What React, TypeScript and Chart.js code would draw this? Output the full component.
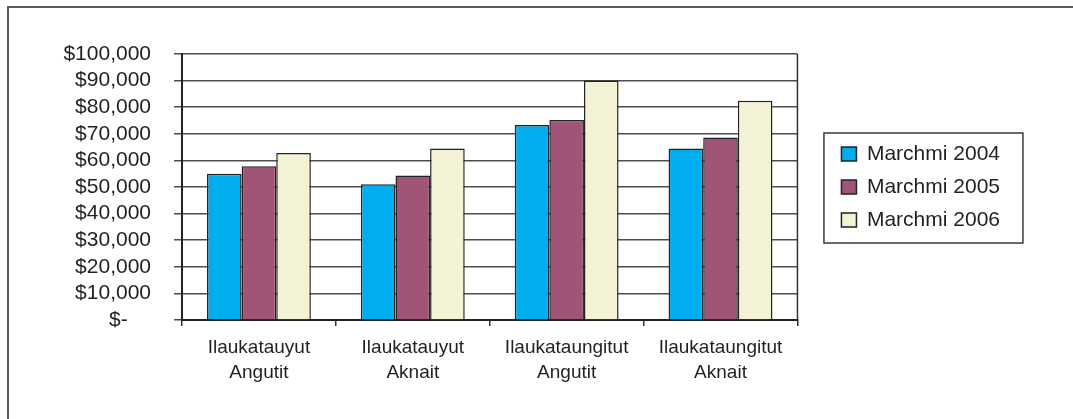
import React, { useEffect, useRef } from "react";
import { Chart, registerables } from "chart.js";

Chart.register(...registerables);

const categories: string[][] = [
  ["Ilaukatauyut", "Angutit"],
  ["Ilaukatauyut", "Aknait"],
  ["Ilaukataungitut", "Angutit"],
  ["Ilaukataungitut", "Aknait"],
];
const seriesNames = ["Marchmi 2004", "Marchmi 2005", "Marchmi 2006"];
const values2004 = [55000, 51000, 73300, 64500];
const values2005 = [57800, 54300, 75200, 68600];
const values2006 = [62800, 64500, 90000, 82400];
const seriesColors = ["#00ADEE", "#A05578", "#F3F2D4"];
const yTickLabels = [
  "$-    ",
  "$10,000",
  "$20,000",
  "$30,000",
  "$40,000",
  "$50,000",
  "$60,000",
  "$70,000",
  "$80,000",
  "$90,000",
  "$100,000",
];

const TEXT = "#231f20";
const FONT = '"Liberation Sans", Arial, Helvetica, sans-serif';

const frames = {
  id: "frames",
  afterDraw(chart: any) {
    const ctx = chart.ctx;
    const a = chart.chartArea;
    ctx.save();
    // right edge of the plot area
    ctx.strokeStyle = "#333333";
    ctx.lineWidth = 1.5;
    ctx.beginPath();
    ctx.moveTo(a.right, a.top);
    ctx.lineTo(a.right, a.bottom);
    ctx.stroke();
    // legend frame
    const lg = chart.legend;
    if (lg && lg.legendHitBoxes && lg.legendHitBoxes.length) {
      const hb = lg.legendHitBoxes;
      const x0 = lg.left - 6;
      const y0 = hb[0].top - 11;
      const y1 = hb[hb.length - 1].top + hb[hb.length - 1].height + 12;
      ctx.strokeStyle = "#3a3a3a";
      ctx.strokeRect(x0 + 0.5, y0 + 0.5, 199, y1 - y0);
    }
    ctx.restore();
  },
};

export default function App() {
  const ref = useRef<HTMLCanvasElement | null>(null);
  useEffect(() => {
    if (!ref.current) return;
    const data = [values2004, values2005, values2006];
    const chart = new Chart(ref.current, {
      type: "bar",
      data: {
        labels: categories,
        datasets: seriesNames.map((name, i) => ({
          label: name,
          data: data[i],
          backgroundColor: seriesColors[i],
          borderColor: "#222222",
          borderWidth: 1.5,
          barPercentage: 1,
          categoryPercentage: 0.675,
          yAxisID: "y",
        })),
      },
      options: {
        responsive: false,
        animation: false,
        devicePixelRatio: 1,
        layout: { padding: { left: 0, top: 54, right: 63, bottom: 29 } },
        plugins: {
          tooltip: { enabled: false },
          title: { display: false },
          legend: {
            display: true,
            position: "right",
            fullSize: false,
            align: "center",
            labels: {
              boxWidth: 15,
              boxHeight: 14,
              padding: 12,
              color: TEXT,
              font: { family: FONT, size: 21 },
            },
          },
        },
        scales: {
          x: {
            type: "category",
            offset: true,
            grid: {
              offset: true,
              drawOnChartArea: false,
              drawTicks: true,
              tickLength: 6,
              color: "#333333",
              lineWidth: 1.5,
            },
            border: { display: true, color: "#222222", width: 2 },
            ticks: {
              color: TEXT,
              padding: 9,
              maxRotation: 0,
              autoSkip: false,
              font: { family: FONT, size: 19, lineHeight: 1.32 },
            },
            afterFit: (s: any) => {
              s.height = 70;
            },
          },
          y: {
            type: "linear",
            position: "left",
            min: 0,
            max: 100000,
            grid: {
              color: "#4d4d4d",
              lineWidth: 1.5,
              tickLength: 8,
              drawTicks: true,
            },
            border: { display: true, color: "#222222", width: 2 },
            ticks: {
              stepSize: 10000,
              autoSkip: false,
              color: TEXT,
              padding: 23,
              font: { family: FONT, size: 21 },
              callback: (_v: any, i: number) => yTickLabels[i],
            },
            afterFit: (s: any) => {
              s.width = 182;
            },
          },
          y2: {
            type: "linear",
            position: "right",
            display: false,
            min: 0,
            max: 100000,
            afterFit: (s: any) => {
              s.width = 32;
            },
          },
        },
      },
      plugins: [frames],
    });
    return () => chart.destroy();
  }, []);

  return (
    <div style={{ position: "absolute", left: 0, top: 0, width: 1073, height: 419, background: "#fff" }}>
      <div
        style={{
          position: "absolute",
          left: 7,
          top: 6,
          width: 1100,
          height: 460,
          borderTop: "2px solid #5a5a5a",
          borderLeft: "2px solid #5a5a5a",
        }}
      />
      <canvas ref={ref} width={1073} height={419} style={{ position: "absolute", left: 0, top: 0 }} />
    </div>
  );
}
